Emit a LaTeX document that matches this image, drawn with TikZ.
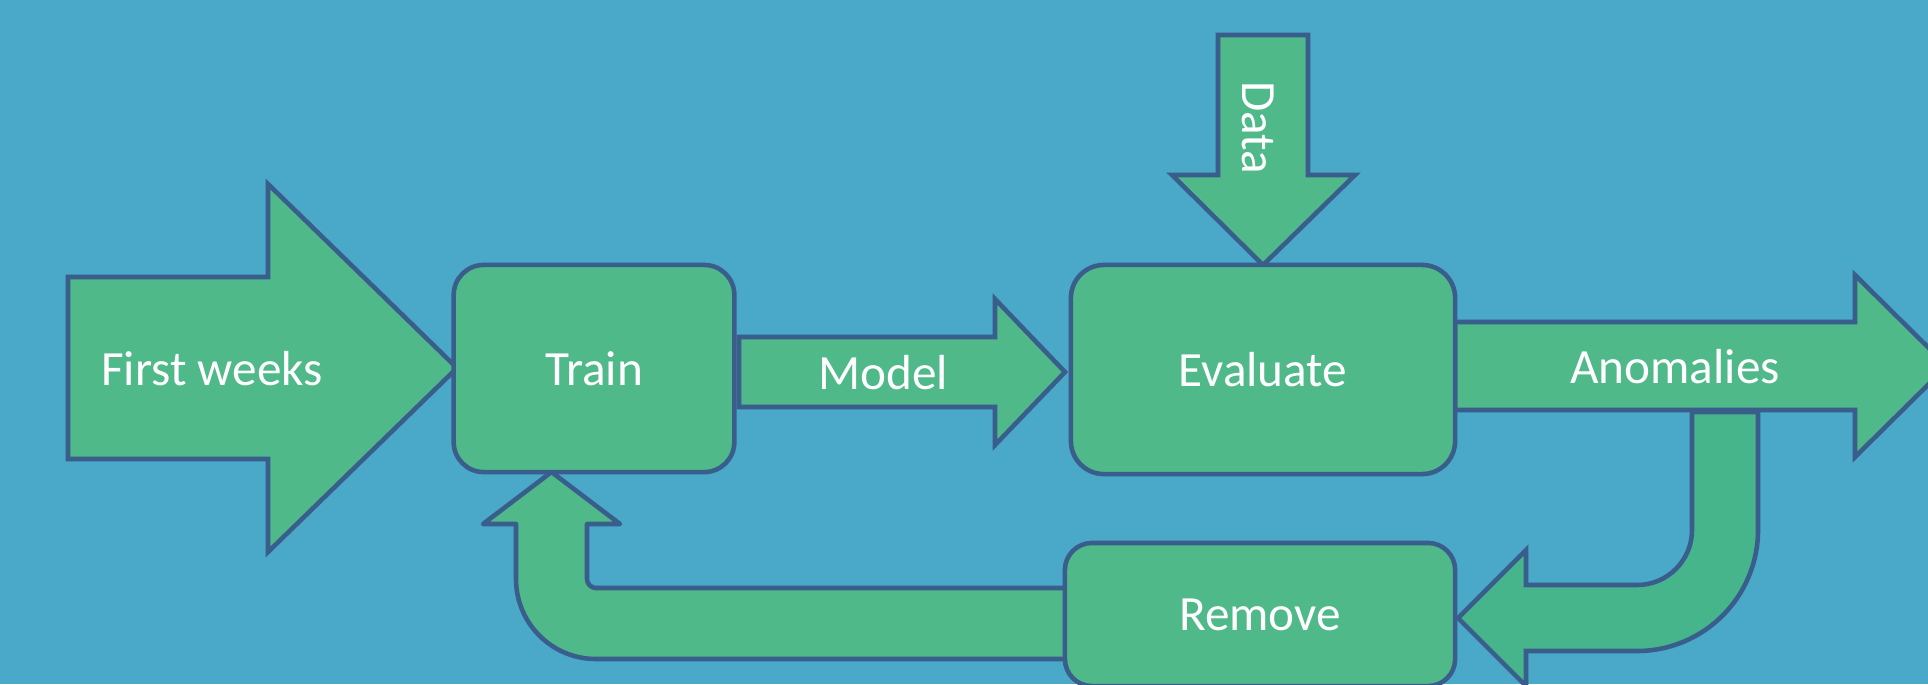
\documentclass[tikz,border=0pt]{standalone}
\usepackage{fontspec}
\setmainfont{Carlito}
\definecolor{bgblue}{HTML}{4AA8C8}
\definecolor{boxgreen}{HTML}{4FB98A}
\definecolor{curvegreen}{HTML}{47B58B}
\definecolor{edgeblue}{HTML}{3A5E8C}
\tikzset{
  blockarrow/.style={fill=boxgreen, draw=edgeblue, line width=1.3pt, line join=miter},
  curvearrow/.style={fill=curvegreen, draw=edgeblue, line width=1.3pt, line join=round},
  stepbox/.style={fill=boxgreen, draw=edgeblue, line width=1.3pt, rounded corners=0.3cm,
    inner sep=0pt, text=white, font=\fontsize{14pt}{17pt}\selectfont},
  lbl/.style={text=white, font=\fontsize{14pt}{17pt}\selectfont, inner sep=0pt}
}
\begin{document}
\begin{tikzpicture}[x=0.01cm,y=-0.01cm]
\useasboundingbox (0,0) rectangle (1928,684);
\fill[bgblue] (0,0) rectangle (1928,684);
\clip (0,0) rectangle (1928,684);

% First weeks arrow
\draw[blockarrow] (68,277) -- (268,277) -- (268,184) -- (457,368) -- (268,552) -- (268,459) -- (68,459) -- cycle;
\node[lbl, anchor=base] (fw) at (212,385) {First weeks};

% Model arrow
\draw[blockarrow] (739,337) -- (995,337) -- (995,299) -- (1065,372) -- (995,445) -- (995,407) -- (739,407) -- cycle;
\node[lbl, anchor=base] (model) at (883,389) {Model};

% Data arrow
\draw[blockarrow] (1218,35) -- (1308,35) -- (1308,175) -- (1355,175) -- (1263,265) -- (1172,175) -- (1218,175) -- cycle;
\node[lbl, rotate=-90] (data) at (1258,128) {Data};

% Anomalies arrow
\draw[blockarrow] (1455,322) -- (1855,322) -- (1855,275) -- (1947,366) -- (1855,457) -- (1855,410) -- (1455,410) -- cycle;
\node[lbl, anchor=base] (anom) at (1675,383) {Anomalies};

% Curved arrow: anomalies -> remove
\draw[curvearrow, line join=miter] (1692,412) -- (1692,530)
  .. controls (1692,560.4) and (1667.4,585) .. (1637,585)
  -- (1526,585) -- (1526,550) -- (1458,618) -- (1526,686) -- (1526,651) -- (1637,651)
  .. controls (1703.8,651) and (1758,596.8) .. (1758,530)
  -- (1758,412) -- cycle;

% Curved arrow: remove -> train
\draw[curvearrow, fill=boxgreen] (1070,588) -- (596,588)
  .. controls (591,588) and (587,584) .. (587,579)
  -- (587,524) -- (620,524) -- (551.5,472) -- (483,524) -- (516,524) -- (516,579)
  .. controls (516,623.2) and (551.8,659) .. (596,659)
  -- (1070,659) -- cycle;

% Boxes
\node[stepbox, minimum width=2.805cm, minimum height=2.07cm] (train) at (594,368.5) {Train};
\node[stepbox, minimum width=3.84cm, minimum height=2.09cm, rounded corners=0.33cm] (eval) at (1263,369.5) {Evaluate};
\node[stepbox, minimum width=3.90cm, minimum height=1.43cm, rounded corners=0.27cm] (remove) at (1260,614.5) {Remove};
\end{tikzpicture}
\end{document}
